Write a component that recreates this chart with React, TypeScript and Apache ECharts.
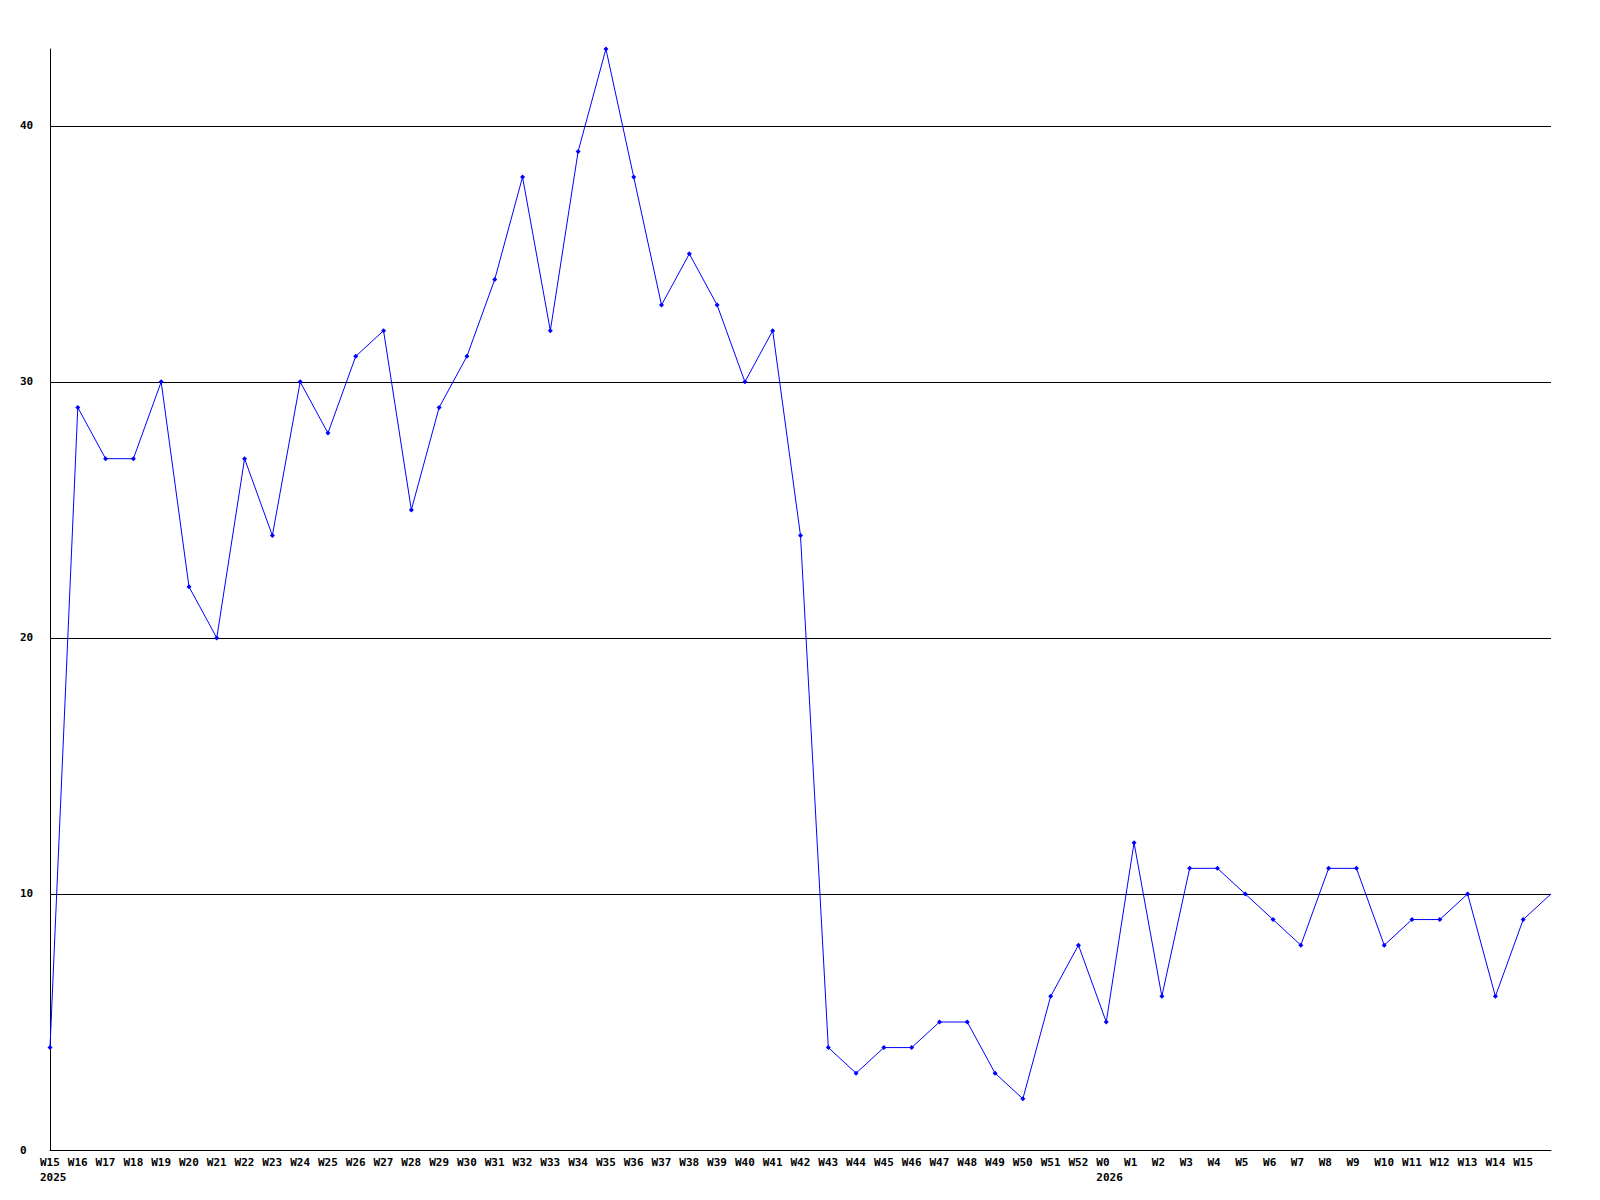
import React, { useEffect, useRef } from "react";
import * as echarts from "echarts";

const weeks: string[] = [
  "W15", "W16", "W17", "W18", "W19", "W20", "W21", "W22", "W23", "W24",
  "W25", "W26", "W27", "W28", "W29", "W30", "W31", "W32", "W33", "W34",
  "W35", "W36", "W37", "W38", "W39", "W40", "W41", "W42", "W43", "W44",
  "W45", "W46", "W47", "W48", "W49", "W50", "W51", "W52", "W0", "W1",
  "W2", "W3", "W4", "W5", "W6", "W7", "W8", "W9", "W10", "W11",
  "W12", "W13", "W14", "W15", "",
];

const yearMarks: Record<number, string> = { 0: "2025", 38: "2026" };

const values: number[] = [
  4, 29, 27, 27, 30, 22, 20, 27, 24, 30,
  28, 31, 32, 25, 29, 31, 34, 38, 32, 39,
  43, 38, 33, 35, 33, 30, 32, 24, 4, 3,
  4, 4, 5, 5, 3, 2, 6, 8, 5, 12,
  6, 11, 11, 10, 9, 8, 11, 11, 8, 9,
  9, 10, 6, 9,
];

const currentValue = 10;

const gridValues: number[] = [10, 20, 30, 40];

export default function App() {
  const ref = useRef<HTMLDivElement>(null);
  useEffect(() => {
    if (!ref.current) return;
    const chart = echarts.init(ref.current, null, { renderer: "svg" });
    const font = "DejaVu Sans Mono";
    const seriesData: any[] = values.map((v) => v);
    seriesData.push({ value: currentValue, symbol: "none" });
    chart.setOption({
      animation: false,
      backgroundColor: "#ffffff",
      grid: { left: 50, right: 49, top: 49, bottom: 50, containLabel: false },
      xAxis: {
        type: "category",
        data: weeks,
        boundaryGap: false,
        axisLine: { show: true, lineStyle: { color: "#000", width: 1 } },
        axisTick: { show: false },
        splitLine: { show: false },
        axisLabel: {
          interval: 0,
          align: "left",
          margin: 5,
          padding: [0, 0, 0, -10],
          fontFamily: font,
          fontWeight: "bold",
          fontSize: 11,
          lineHeight: 15,
          color: "#000",
          formatter: (val: string, idx: number) =>
            yearMarks[idx] ? val + "\n" + yearMarks[idx] : val,
        },
      },
      yAxis: {
        type: "value",
        min: 0,
        max: 43,
        interval: 10,
        axisLine: { show: true, lineStyle: { color: "#000", width: 1 } },
        axisTick: { show: false },
        splitLine: { show: false },
        axisLabel: {
          showMaxLabel: false,
          align: "left",
          margin: 30,
          fontFamily: font,
          fontWeight: "bold",
          fontSize: 11,
          color: "#000",
          formatter: (v: number) => (v % 10 === 0 ? String(v) : ""),
        },
      },
      series: [
        {
          type: "line",
          data: seriesData,
          symbol: "diamond",
          symbolSize: 5,
          showSymbol: true,
          lineStyle: { color: "#0000ff", width: 1 },
          itemStyle: { color: "#0000ff" },
          z: 3,
          markLine: {
            silent: true,
            symbol: ["none", "none"],
            label: { show: false },
            lineStyle: { color: "#000", width: 1, type: "solid" },
            data: gridValues.map((g) => ({ yAxis: g })),
            z: 1,
          },
        },
      ],
    });
    return () => chart.dispose();
  }, []);
  return (
    <div
      ref={ref}
      style={{ position: "absolute", left: 0, top: 0, width: 1600, height: 1200, background: "#fff" }}
    />
  );
}
